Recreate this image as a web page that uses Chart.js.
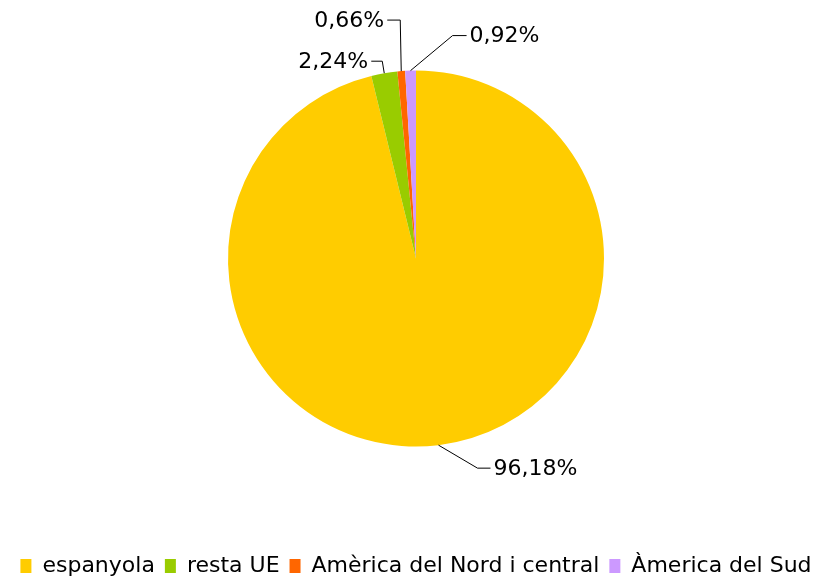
<!DOCTYPE html>
<html>
<head>
<meta charset="utf-8">
<script src="https://cdn.jsdelivr.net/npm/chart.js@4"></script>
<style>
html, body { margin: 0; background: #fff; }
</style>
</head>
<body>
<canvas id="chart" width="824" height="581"></canvas>
<script>
// nacionalitat - percentatges
const categories = ['espanyola', 'resta UE', 'Amèrica del Nord i central', 'Àmerica del Sud'];
const percentages = [96.18, 2.24, 0.66, 0.92];
const percentLabels = ['96,18%', '2,24%', '0,66%', '0,92%'];
const colours = ['#FFCC00', '#99CC00', '#FF6600', '#CC99FF'];

// leader lines + value labels (Excel style)
const leaderLabels = {
    id: 'leaderLabels',
    afterDatasetsDraw(chart, args, opts) {
        const ctx = chart.ctx;
        const meta = chart.getDatasetMeta(0);
        ctx.save();
        ctx.font = opts.font;
        ctx.fillStyle = '#000';
        ctx.strokeStyle = '#000';
        ctx.lineWidth = 1;
        ctx.textBaseline = 'middle';
        meta.data.forEach((arc, i) => {
            const p = arc.getProps(['x', 'y', 'startAngle', 'endAngle', 'outerRadius'], true);
            const mid = (p.startAngle + p.endAngle) / 2;
            const ax = p.x + Math.cos(mid) * p.outerRadius;
            const ay = p.y + Math.sin(mid) * p.outerRadius;
            const g = opts.leaders[i];
            const ex = ax + g.dx, ey = ay + g.dy;
            const hx = ex + g.run;
            ctx.beginPath();
            ctx.moveTo(ax, ay);
            ctx.lineTo(ex, ey);
            ctx.lineTo(hx, ey);
            ctx.stroke();
            ctx.textAlign = g.run > 0 ? 'left' : 'right';
            ctx.fillText(percentLabels[i], hx + (g.run > 0 ? 3 : -3), ey + 1);
        });
        ctx.restore();
    }
};

const ctx = document.getElementById('chart').getContext('2d');
new Chart(ctx, {
    type: 'pie',
    data: {
        labels: categories,
        datasets: [{
            data: percentages,
            backgroundColor: colours,
            borderWidth: 0,
            radius: 188
        }]
    },
    plugins: [leaderLabels],
    options: {
        responsive: false,
        animation: false,
        events: [],
        layout: { padding: { top: 0, left: 8, right: 0, bottom: -6 } },
        plugins: {
            tooltip: { enabled: false },
            legend: {
                position: 'bottom',
                title: {
                    display: true,
                    text: '',
                    font: { size: 1 },
                    padding: { top: 26.8, bottom: 0 }
                },
                labels: {
                    color: '#000',
                    font: { family: 'DejaVu Sans', size: 22 },
                    boxWidth: 11,
                    boxHeight: 14,
                    padding: 10
                }
            },
            leaderLabels: {
                font: '22px "DejaVu Sans"',
                leaders: [
                    { dx: 39, dy: 23, run: 13 },
                    { dx: -2, dy: -12, run: -11 },
                    { dx: -1, dy: -51, run: -13 },
                    { dx: 42, dy: -35, run: 14 }
                ]
            }
        }
    }
});
</script>
</body>
</html>
